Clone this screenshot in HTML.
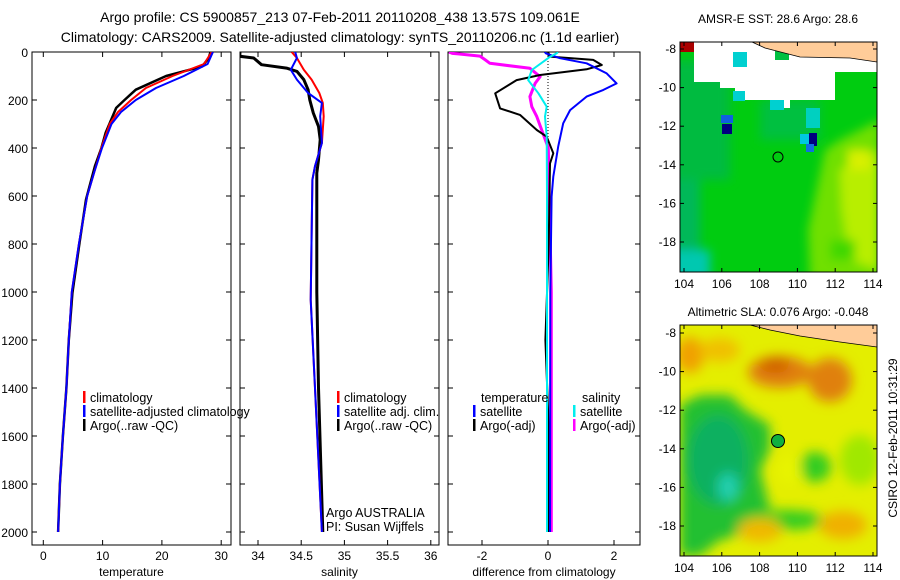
<!DOCTYPE html>
<html><head><meta charset="utf-8"><style>
body{margin:0;background:#fff;}
svg{display:block;font-family:"Liberation Sans",sans-serif;}
text{fill:#000;}
</style></head><body>
<svg id="fig" width="900" height="580" viewBox="0 0 900 580" xmlns="http://www.w3.org/2000/svg">
<defs>
<filter id="blur3" x="-20%" y="-20%" width="140%" height="140%"><feGaussianBlur stdDeviation="6"/></filter>
<filter id="blur2" x="-20%" y="-20%" width="140%" height="140%"><feGaussianBlur stdDeviation="5"/></filter>
<clipPath id="clipSST"><rect x="680" y="42" width="197" height="230"/></clipPath>
<clipPath id="clipSLA"><rect x="680" y="325" width="197" height="231"/></clipPath>
<clipPath id="clipP1"><rect x="32" y="52" width="199" height="493"/></clipPath>
<clipPath id="clipP2"><rect x="240" y="52" width="199" height="493"/></clipPath>
<clipPath id="clipP3"><rect x="448" y="52" width="192" height="493"/></clipPath>
</defs>
<text x="340" y="22" font-size="14" text-anchor="middle">Argo profile: CS 5900857_213 07-Feb-2011 20110208_438 13.57S 109.061E</text>
<text x="340" y="42" font-size="14" text-anchor="middle">Climatology: CARS2009. Satellite-adjusted climatology: synTS_20110206.nc (1.1d earlier)</text>

<!-- SST map -->
<g clip-path="url(#clipSST)">
<rect x="680" y="42" width="197" height="230" fill="#00cc10"/>
<g filter="url(#blur2)">
<rect x="670" y="60" width="60" height="120" fill="#00bb40"/>
<rect x="670" y="180" width="30" height="100" fill="#00b858"/>
<rect x="670" y="250" width="40" height="30" fill="#00c8b0"/>
<rect x="760" y="100" width="60" height="40" fill="#00c040"/>
<polygon points="825,150 840,140 880,120 880,280 810,280 808,230" fill="#70e000"/>
<polygon points="840,170 880,150 880,270 850,260 842,210" fill="#b8ee00"/>
<rect x="848" y="150" width="22" height="20" fill="#d8f000"/>
<rect x="830" y="240" width="25" height="20" fill="#40d800"/>
</g>
<polygon points="694,42 877,42 877,72 835,72 835,100 790,100 790,108 770,108 770,100 735,100 735,88 720,88 720,82 694,82 694,60 694,42" fill="#fff"/>
<rect x="680" y="42" width="14" height="10" fill="#aa0000"/>
<rect x="733" y="91" width="12" height="10" fill="#00d0d0"/>
<rect x="733" y="52" width="14" height="15" fill="#00d0d0"/>
<rect x="775" y="45" width="14" height="15" fill="#00c040"/>
<rect x="770" y="100" width="14" height="10" fill="#00d0d0"/>
<rect x="806" y="108" width="14" height="20" fill="#00d0c0"/>
<rect x="721" y="115" width="12" height="8" fill="#1060e0"/>
<rect x="722" y="124" width="10" height="10" fill="#000080"/>
<rect x="800" y="134" width="16" height="10" fill="#00c8e0"/>
<rect x="809" y="133" width="8" height="13" fill="#000080"/>
<rect x="806" y="144" width="8" height="8" fill="#1070e0"/>
<polygon points="752,42 877,42 877,62 850,58 800,57 765,48" fill="#ffcc99" stroke="#000" stroke-width="0.8"/>
<circle cx="778" cy="157" r="5" fill="none" stroke="#000" stroke-width="1"/>
</g>
<rect x="680" y="42" width="197" height="230" fill="none" stroke="#000"/>
<text x="778" y="23" font-size="12" text-anchor="middle">AMSR-E SST: 28.6 Argo: 28.6</text>

<!-- SLA map -->
<g clip-path="url(#clipSLA)">
<rect x="680" y="325" width="197" height="231" fill="#e4ee00"/>
<g filter="url(#blur3)">
<ellipse cx="690" cy="355" rx="14" ry="18" fill="#f0a000"/>
<ellipse cx="780" cy="372" rx="32" ry="16" fill="#e08010"/>
<ellipse cx="830" cy="380" rx="22" ry="22" fill="#e08010"/>
<ellipse cx="775" cy="365" rx="15" ry="8" fill="#d06000"/>
<ellipse cx="720" cy="350" rx="20" ry="12" fill="#f0c000"/>
<polygon points="680,405 700,395 730,395 745,410 770,425 770,450 760,470 770,510 760,530 720,540 700,556 680,556" fill="#20c030"/>
<ellipse cx="718" cy="460" rx="30" ry="45" fill="#10b060"/>
<ellipse cx="728" cy="487" rx="10" ry="14" fill="#20d0b0"/>
<ellipse cx="785" cy="520" rx="40" ry="10" fill="#30cc20"/>
<ellipse cx="815" cy="467" rx="16" ry="15" fill="#30cc20"/>
<ellipse cx="760" cy="530" rx="22" ry="12" fill="#f0b800"/>
<ellipse cx="843" cy="525" rx="24" ry="14" fill="#f0b000"/>
<ellipse cx="860" cy="460" rx="20" ry="25" fill="#a0e800"/>
<ellipse cx="790" cy="470" rx="12" ry="14" fill="#e8f400"/>
</g>
<polygon points="750,325 877,325 877,347 840,342 800,336 770,330" fill="#ffcc99" stroke="#000" stroke-width="0.8"/>
<circle cx="778" cy="441" r="6.5" fill="#10b040" stroke="#000" stroke-width="1"/>
</g>
<rect x="680" y="325" width="197" height="231" fill="none" stroke="#000"/>
<text x="778" y="316" font-size="12" text-anchor="middle">Altimetric SLA: 0.076 Argo: -0.048</text>
<text transform="translate(897,438) rotate(-90)" font-size="12" text-anchor="middle">CSIRO 12-Feb-2011 10:31:29</text>
<g id="axes"></g>
</svg>
<script>
// ---- data ----
const depthTicks = [0,200,400,600,800,1000,1200,1400,1600,1800,2000];
const tempTicks = [0,10,20,30];
const salTicks = [34,34.5,35,35.5,36];
const diffTicks = [-2,0,2];
const latTicks = [-8,-10,-12,-14,-16,-18];
const lonTicks = [104,106,108,110,112,114];

const tempDepth = [0,50,100,150,200,250,300,400,500,600,800,1000,1200,1400,1600,1800,2000];
const tempClim = [28.4,27.1,21.8,17.3,14.8,12.6,11.2,9.8,8.6,7.4,6.0,4.8,4.3,3.9,3.3,2.8,2.5];
const tempSat  = [28.6,27.7,23.7,19.0,15.6,13.1,11.5,9.9,8.6,7.4,6.0,4.8,4.3,3.9,3.3,2.8,2.5];
const argoTDepth = [0,25,60,100,157,200,233,337,400,476,615,796,1004,1200,1400,1600,1800,2000];
const argoTemp = [28.2,27.9,26.8,20.7,15.6,13.7,12.3,10.5,9.8,8.7,7.2,6.1,4.9,4.3,3.9,3.3,2.8,2.5];

const salDepth = [0,25,74,115,171,212,268,379,476,532,1032,1400,2000];
const salClim = [34.39,34.45,34.53,34.62,34.71,34.75,34.76,34.74,34.66,34.63,34.61,34.66,34.74];
const salSat  = [34.43,34.45,34.38,34.45,34.58,34.74,34.72,34.74,34.66,34.63,34.61,34.66,34.74];
const argoSDepth = [0,18,25,53,67,81,115,157,200,254,310,365,449,504,615,1000,1400,2000];
const argoSal = [33.79,33.79,33.95,34.04,34.33,34.45,34.53,34.58,34.60,34.64,34.70,34.72,34.70,34.68,34.68,34.68,34.70,34.75];

const dTDepthA = [0,19,33,54,72,96,117,172,235,262,325,353,422,464,800,1200,1600,2000];
const dTArgo = [0.0,0.06,1.37,1.63,1.17,-0.24,-0.95,-1.6,-1.45,-0.85,-0.34,-0.04,0.16,0.06,0.02,-0.08,0.03,0.02];
const dTDepthS = [0,6,26,47,89,131,158,186,242,297,394,519,603,1000,2000];
const dTSat = [-0.1,-0.06,0.36,1.17,1.78,2.08,1.68,1.17,0.67,0.46,0.31,0.16,0.11,0.07,0.06];
const dSDepthS = [0,6,20,75,117,172,228,269,353,600,1000,2000];
const dSSat = [0.3,0.26,0.06,-0.49,-0.6,-0.29,-0.04,-0.09,-0.04,-0.03,-0.03,-0.03];
const dSDepthA = [0,6,8,17,33,47,68,103,131,186,228,269,325,400,1000,2000];
const dSArgo = [-3.0,-2.9,-2.72,-2.06,-1.9,-1.76,-0.55,-0.24,-0.39,-0.55,-0.49,-0.34,-0.19,0.01,0.1,0.1];

// ---- axes ----
const NS='http://www.w3.org/2000/svg';
const root=document.getElementById('axes');
const yD=d=>52+d*0.24;
const xT=v=>43.3+v*5.93;
const xS=v=>258+(v-34)*86.4;
const xDf=v=>548+v*33;
const yLat=v=>49+(-8-v)*19.3;
const yLat2=v=>333+(-8-v)*19.3;
const xLon=v=>684+(v-104)*18.9;

function mk(tag,attrs,parent){const e=document.createElementNS(NS,tag);for(const k in attrs)e.setAttribute(k,attrs[k]);(parent||root).appendChild(e);return e;}
function txt(x,y,s,size,anchor,parent){const t=mk('text',{x:x,y:y,'font-size':size,'text-anchor':anchor||'start'},parent);t.textContent=s;return t;}

function panel(name,x0,x1,xf,ticks,title,clip){
  const g=mk('g',{});
  
  
  const fr=mk('rect',{x:x0,y:52,width:x1-x0,height:493,fill:'none',stroke:'#000'},g);
  
  
  depthTicks.forEach(d=>{
    const y=yD(d);
    mk('line',{x1:x0,x2:x0+5,y1:y,y2:y,stroke:'#000'},g);
    mk('line',{x1:x1-5,x2:x1,y1:y,y2:y,stroke:'#000'},g);
  });
  ticks.forEach(v=>{
    const x=xf(v);
    mk('line',{x1:x,x2:x,y1:545,y2:540,stroke:'#000'},g);
    mk('line',{x1:x,x2:x,y1:52,y2:57,stroke:'#000'},g);
    const t=txt(x,560,String(v),12,'middle',g);
    
    
  });
  const tt=txt((x0+x1)/2,576,title,12,'middle',g);
  
  
  const cg=mk('g',{'clip-path':'url(#'+clip+')'},g);
  return cg;
}
function line(g,xs,ds,xf,color,w,dash,name){
  const pts=xs.map((v,i)=>xf(v).toFixed(1)+','+yD(ds[i]).toFixed(1)).join(' ');
  const p=mk('polyline',{points:pts,fill:'none',stroke:color,'stroke-width':w,'stroke-linejoin':'round'},g);
  if(dash)p.setAttribute('stroke-dasharray',dash);
  
  
}
depthTicks.forEach(d=>{
  const t=txt(28,yD(d)+5,String(d),12,'end');
  
  
});

const g1=panel('temperature-panel',32,231,xT,tempTicks,'temperature','clipP1');
line(g1,argoTemp,argoTDepth,xT,'#000',2.5,null,'argo-temperature-line');
line(g1,tempClim,tempDepth,xT,'#f00',2,null,'climatology-temperature-line');
line(g1,tempSat,tempDepth,xT,'#00f',2,null,'satellite-temperature-line');

const g2=panel('salinity-panel',240,439,xS,salTicks,'salinity','clipP2');
line(g2,argoSal,argoSDepth,xS,'#000',3,null,'argo-salinity-line');
line(g2,salClim,salDepth,xS,'#f00',2,null,'climatology-salinity-line');
line(g2,salSat,salDepth,xS,'#00f',2,null,'satellite-salinity-line');

const g3=panel('difference-panel',448,640,xDf,diffTicks,'difference from climatology','clipP3');
mk('line',{x1:548,x2:548,y1:52,y2:yD(450),stroke:'#000','stroke-dasharray':'1,2'},g3);
line(g3,dSArgo,dSDepthA,xDf,'#f0f',3,null,'argo-salinity-diff-line');
line(g3,dTArgo,dTDepthA,xDf,'#000',2,null,'argo-temperature-diff-line');
line(g3,dTSat,dTDepthS,xDf,'#00f',2,null,'satellite-temperature-diff-line');
line(g3,dSSat,dSDepthS,xDf,'#0ee',2,null,'satellite-salinity-diff-line');

function legend(x,y,color,label,name){
  const g=mk('g',{});
  
  
  mk('rect',{x:x,y:y-11,width:2.5,height:12,fill:color},g);
  txt(x+7,y,label,12.5,'start',g);
}
legend(83,402,'#f00','climatology','legend-climatology');
legend(83,416,'#00f','satellite-adjusted climatology','legend-satellite-adjusted');
legend(83,430,'#000','Argo(..raw -QC)','legend-argo');
legend(337,402,'#f00','climatology','legend-sal-climatology');
legend(337,416,'#00f','satellite adj. clim.','legend-sal-satellite');
legend(337,430,'#000','Argo(..raw -QC)','legend-sal-argo');
let t=txt(326,517,'Argo AUSTRALIA',12.5);


t=txt(326,531,'PI: Susan Wijffels',12.5);


t=txt(481,402,'temperature',12.5);


t=txt(582,402,'salinity',12.5);


legend(473,416,'#00f','satellite','legend-temp-satellite');
legend(473,430,'#000','Argo(-adj)','legend-temp-argo');
legend(573,416,'#0ee','satellite','legend-sal-sat');
legend(573,430,'#f0f','Argo(-adj)','legend-sal-argo-adj');

function mapAxes(y0,y1,yf,name){
  const g=mk('g',{});
  
  
  latTicks.forEach(v=>{
    const y=yf(v);
    mk('line',{x1:680,x2:684,y1:y,y2:y,stroke:'#000'},g);
    mk('line',{x1:873,x2:877,y1:y,y2:y,stroke:'#000'},g);
    txt(676,y+4,String(v),12,'end',g);
  });
  lonTicks.forEach(v=>{
    const x=xLon(v);
    mk('line',{x1:x,x2:x,y1:y1,y2:y1-4,stroke:'#000'},g);
    mk('line',{x1:x,x2:x,y1:y0,y2:y0+4,stroke:'#000'},g);
    txt(x,y1+16,String(v),12,'middle',g);
  });
}
mapAxes(42,272,yLat,'sst-map-axes');
mapAxes(325,556,yLat2,'sla-map-axes');
</script>
</body></html>
